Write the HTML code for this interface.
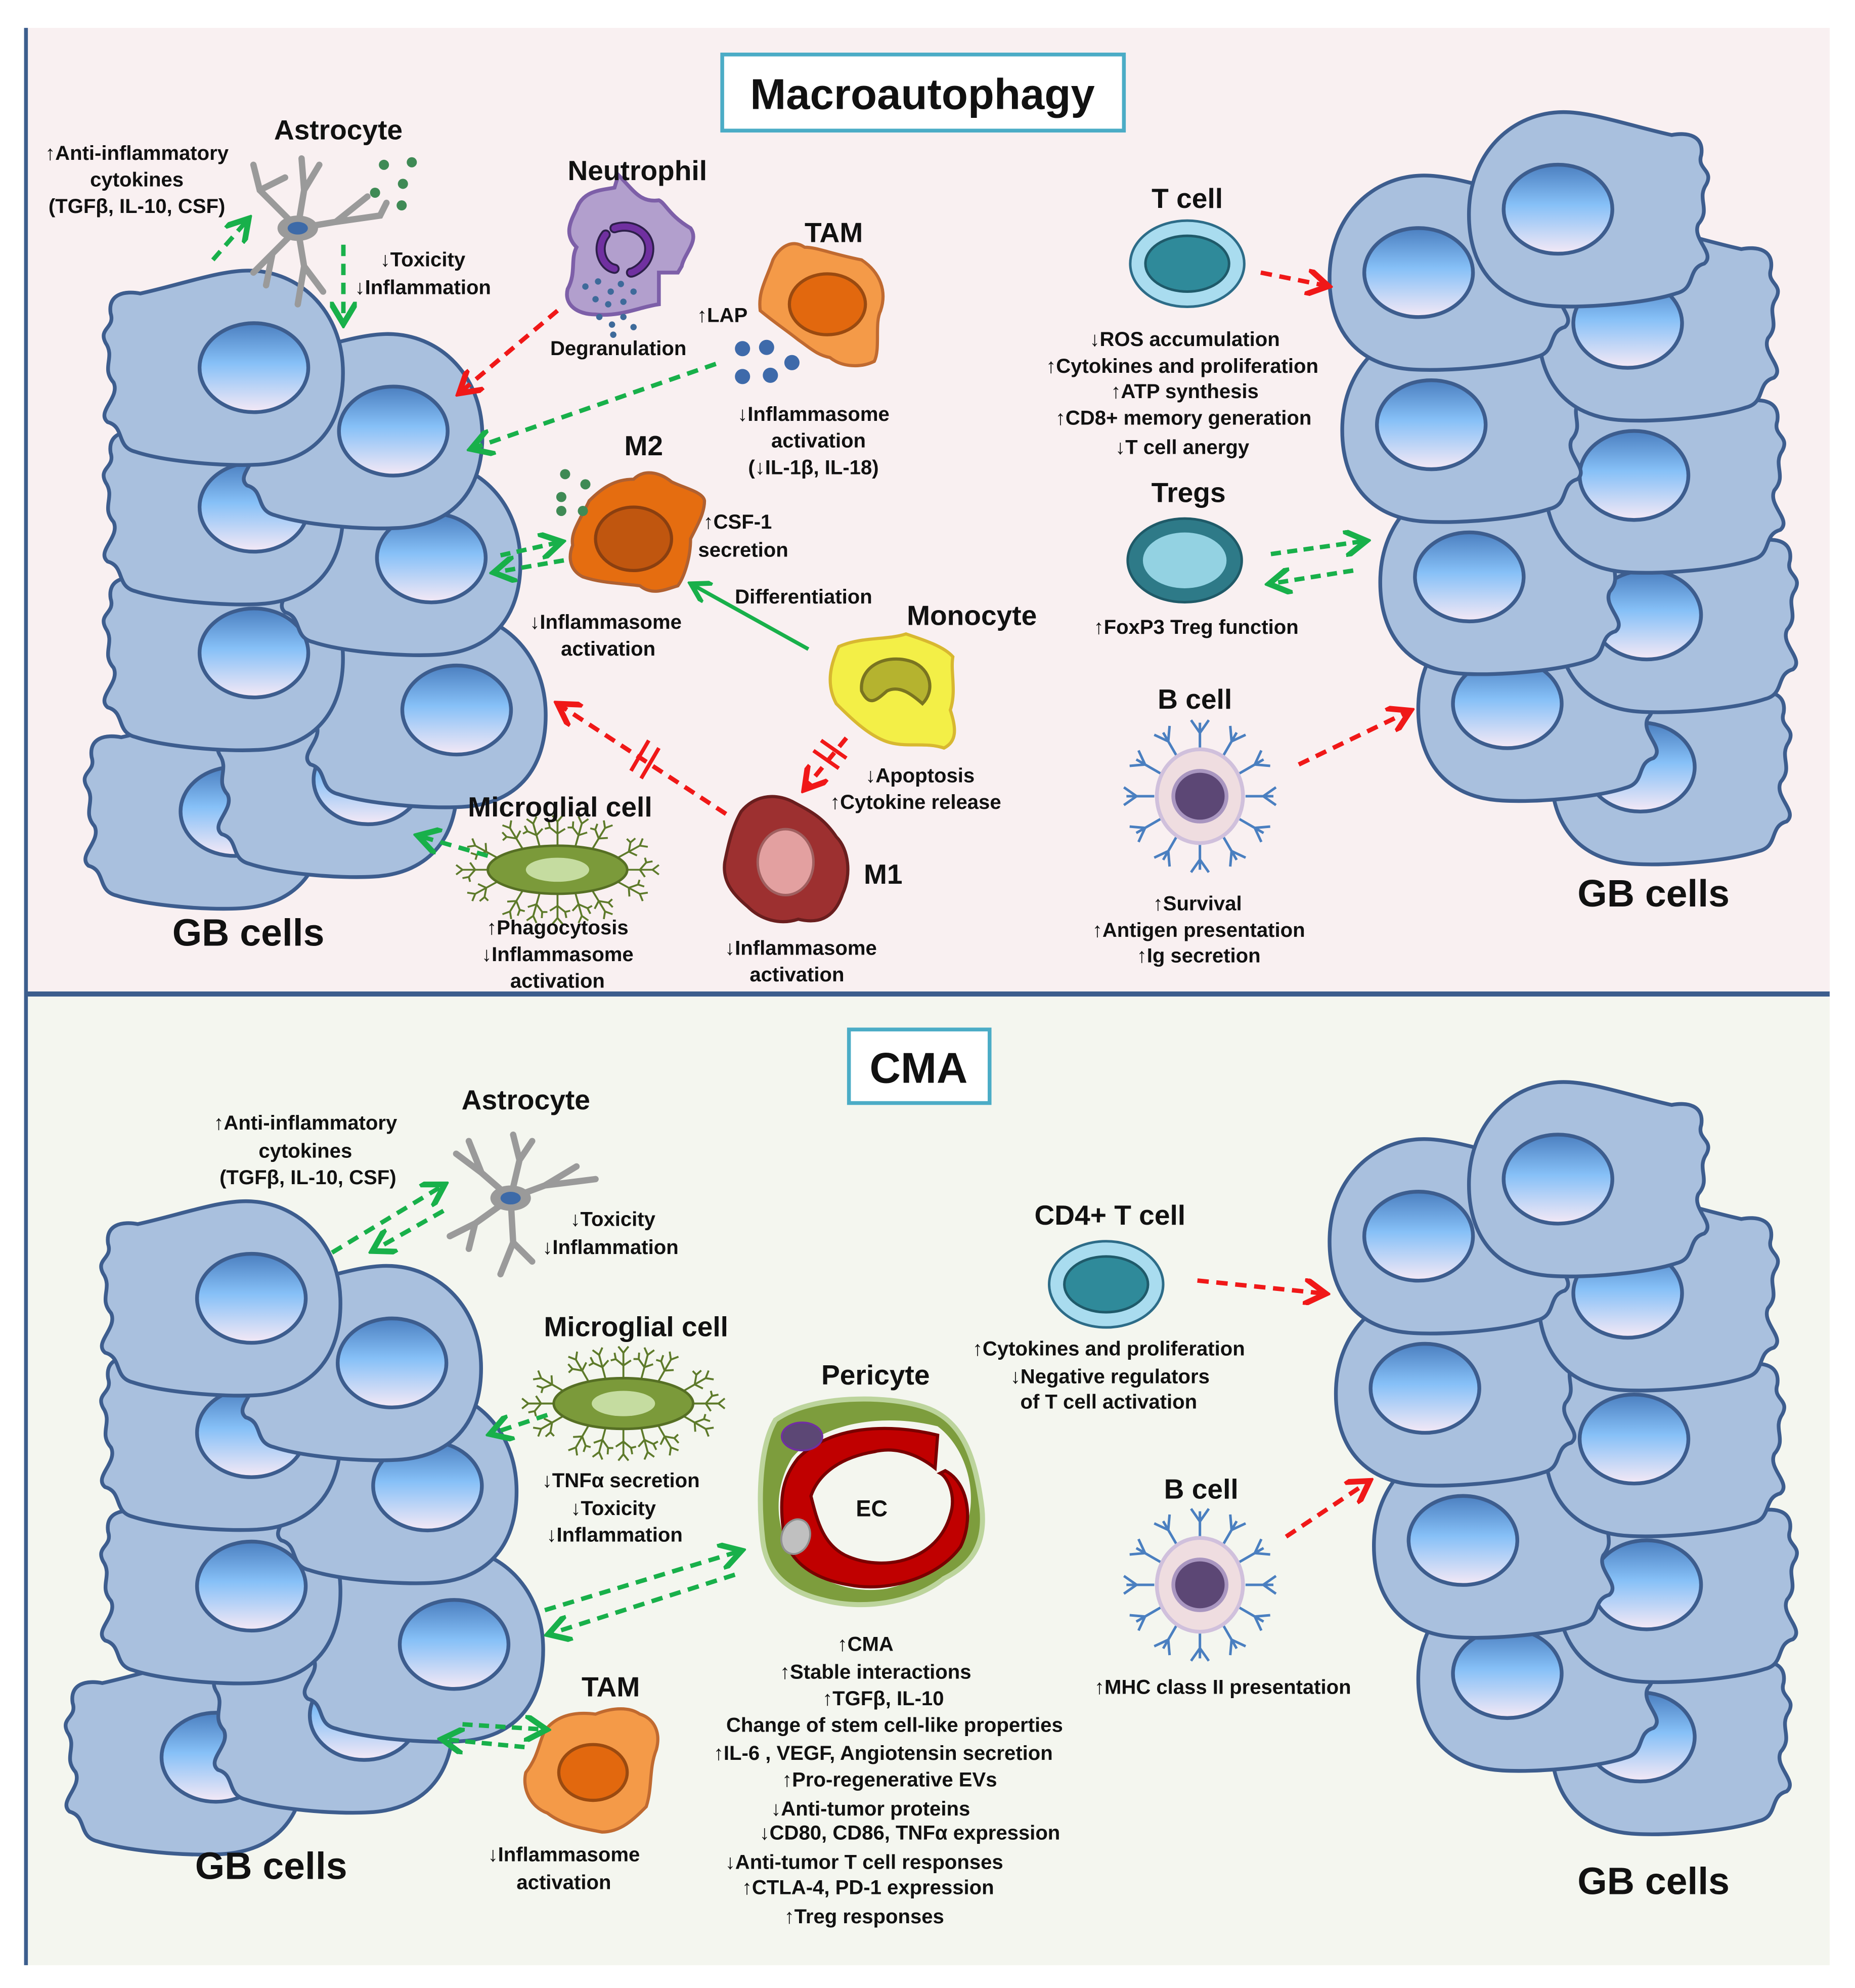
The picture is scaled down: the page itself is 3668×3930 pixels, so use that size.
<!DOCTYPE html>
<html><head><meta charset="utf-8"><style>
html,body{margin:0;padding:0;background:#fff;}
svg{display:block;}
text{font-family:"Liberation Sans",sans-serif;font-weight:bold;fill:#111;}
</style></head><body>
<svg width="3668" height="3930" viewBox="0 0 1464 1568" preserveAspectRatio="none" xmlns="http://www.w3.org/2000/svg">
<defs>
<linearGradient id="nuc" x1="0" y1="0" x2="0" y2="1">
<stop offset="0" stop-color="#4b7fc0"/><stop offset="0.45" stop-color="#86c0f7"/><stop offset="1" stop-color="#f5e9f6"/>
</linearGradient>
<g id="gb0">
<path d="M-115,-55 C-118,-75 -100,-78 -85,-75 C-40,-85 0,-100 30,-98 C80,-95 118,-55 120,0 C122,55 95,95 35,98 C0,100 -60,95 -90,85 C-110,80 -100,60 -118,55 C-130,45 -105,30 -112,15 C-125,0 -110,-10 -120,-25 C-128,-40 -110,-40 -115,-55Z" fill="#a9c0de" stroke="#3d5d8e" stroke-width="3.8"/>
<ellipse cx="30" cy="0" rx="55" ry="45" fill="url(#nuc)" stroke="#3d5d8e" stroke-width="3.8"/>
</g>
<g id="gb"><use href="#gb0" transform="scale(0.78)"/></g>
<marker id="ag" markerWidth="6" markerHeight="6" refX="4" refY="3" orient="auto" markerUnits="strokeWidth"><path d="M0,0 L5,3 L0,6" fill="none" stroke="#18b04a" stroke-width="1.3"/></marker>
<marker id="ar" markerWidth="6" markerHeight="6" refX="4" refY="3" orient="auto" markerUnits="strokeWidth"><path d="M0,0 L5,3 L0,6" fill="none" stroke="#f01818" stroke-width="1.3"/></marker>
<g id="bspk" stroke="#4a7fc0" stroke-width="2" fill="none">
<path d="M0,-36 V-58 M0,-50 l-7,-10 M0,-50 l7,-10"/>
</g>
<g id="sp" stroke="#5d7a2a" stroke-width="1.5" fill="none"><path d="M0,0 L0,-20 M0,-10 l-6,-5 l-1,-5 M0,-10 l6,-4 M0,-20 l-4,-5 M0,-20 l4,-5 M-6,-15 l-4,1"/></g>
<g id="mg">
<use href="#sp" transform="translate(55,0) rotate(90)"/>
<use href="#sp" transform="translate(47.6,10) rotate(120)"/>
<use href="#sp" transform="translate(27.5,17.3) rotate(150)"/>
<use href="#sp" transform="translate(0,20) rotate(180)"/>
<use href="#sp" transform="translate(-27.5,17.3) rotate(210)"/>
<use href="#sp" transform="translate(-47.6,10) rotate(240)"/>
<use href="#sp" transform="translate(-55,0) rotate(270)"/>
<use href="#sp" transform="translate(-47.6,-10) rotate(300)"/>
<use href="#sp" transform="translate(-27.5,-17.3) rotate(330)"/>
<use href="#sp" transform="translate(0,-20) rotate(0)"/>
<use href="#sp" transform="translate(27.5,-17.3) rotate(30)"/>
<use href="#sp" transform="translate(47.6,-10) rotate(60)"/>
<use href="#sp" transform="translate(14,-19) rotate(15)"/>
<use href="#sp" transform="translate(-14,-19) rotate(-15)"/>
<use href="#sp" transform="translate(14,19) rotate(165)"/>
<use href="#sp" transform="translate(-14,19) rotate(195)"/>
<ellipse rx="55" ry="20" fill="#7b9a3a" stroke="#566f24" stroke-width="2"/>
<ellipse rx="25" ry="10" fill="#c5dca0"/>
</g>
</defs>

<!-- panels -->
<rect x="20" y="22" width="1424" height="762" fill="#f9f0f1"/>
<rect x="20" y="786" width="1424" height="764" fill="#f4f6ef"/>
<rect x="19" y="22" width="3" height="1528" fill="#3c5e8d"/>
<rect x="20" y="782" width="1424" height="4" fill="#3c5e8d"/>

<!-- Title boxes -->
<rect x="570" y="43" width="317" height="60" fill="#fff" stroke="#4bacc6" stroke-width="3"/>
<text x="728" y="86" font-size="34" text-anchor="middle">Macroautophagy</text>
<rect x="670" y="812" width="111" height="58" fill="#fff" stroke="#4bacc6" stroke-width="3"/>
<text x="725" y="854" font-size="34" text-anchor="middle">CMA</text>

<!-- TOP LEFT GB cluster -->
<use href="#gb" transform="translate(162,640)"/>
<use href="#gb" transform="translate(267,615)"/>
<use href="#gb" transform="translate(337,560)"/>
<use href="#gb" transform="translate(177,515)"/>
<use href="#gb" transform="translate(317,440)"/>
<use href="#gb" transform="translate(177,400)"/>
<use href="#gb" transform="translate(287,340)"/>
<use href="#gb" transform="translate(177,290)"/>
<text x="196" y="746" font-size="30" text-anchor="middle">GB cells</text>

<!-- TOP RIGHT GB cluster -->
<g transform="translate(20,15)">
<use href="#gb" transform="translate(1298,590) scale(-1,1)"/>
<use href="#gb" transform="translate(1193,540) scale(-1,1)"/>
<use href="#gb" transform="translate(1303,470) scale(-1,1)"/>
<use href="#gb" transform="translate(1163,440) scale(-1,1)"/>
<use href="#gb" transform="translate(1293,360) scale(-1,1)"/>
<use href="#gb" transform="translate(1133,320) scale(-1,1)"/>
<use href="#gb" transform="translate(1288,240) scale(-1,1)"/>
<use href="#gb" transform="translate(1123,200) scale(-1,1)"/>
<use href="#gb" transform="translate(1233,150) scale(-1,1)"/>
</g>
<text x="1305" y="715" font-size="30" text-anchor="middle">GB cells</text>

<!-- BOTTOM LEFT GB cluster -->
<use href="#gb" transform="translate(147,1386)"/>
<use href="#gb" transform="translate(264,1353)"/>
<use href="#gb" transform="translate(335,1297)"/>
<use href="#gb" transform="translate(175,1251)"/>
<use href="#gb" transform="translate(314,1172)"/>
<use href="#gb" transform="translate(175,1130)"/>
<use href="#gb" transform="translate(286,1075)"/>
<use href="#gb" transform="translate(175,1024)"/>
<text x="214" y="1482" font-size="30" text-anchor="middle">GB cells</text>

<!-- BOTTOM RIGHT GB cluster -->
<g transform="translate(20,10)">
<use href="#gb" transform="translate(1298,1360) scale(-1,1)"/>
<use href="#gb" transform="translate(1193,1310) scale(-1,1)"/>
<use href="#gb" transform="translate(1303,1240) scale(-1,1)"/>
<use href="#gb" transform="translate(1158,1205) scale(-1,1)"/>
<use href="#gb" transform="translate(1293,1125) scale(-1,1)"/>
<use href="#gb" transform="translate(1128,1085) scale(-1,1)"/>
<use href="#gb" transform="translate(1288,1010) scale(-1,1)"/>
<use href="#gb" transform="translate(1123,965) scale(-1,1)"/>
<use href="#gb" transform="translate(1233,920) scale(-1,1)"/>
</g>
<text x="1305" y="1494" font-size="30" text-anchor="middle">GB cells</text>

<!-- ===== TOP: Astrocyte ===== -->
<g stroke="#9a9a9a" stroke-width="5" fill="none" stroke-linecap="round">
<path d="M235,180 L205,150 L200,130 M205,150 L225,140 M235,180 L240,150 L238,125 M240,150 L252,130 M235,180 L265,175 L290,155 M265,175 L300,170 L305,160 M235,180 L215,200 L200,215 M215,200 L210,225 M235,180 L240,210 L235,240 M240,210 L255,230"/>
</g>
<ellipse cx="235" cy="180" rx="16" ry="10" fill="#9a9a9a"/>
<ellipse cx="235" cy="180" rx="8" ry="5" fill="#3d6aa8"/>
<g fill="#3f8a55"><circle cx="303" cy="130" r="4"/><circle cx="325" cy="128" r="4"/><circle cx="318" cy="145" r="4"/><circle cx="296" cy="152" r="4"/><circle cx="317" cy="162" r="4"/></g>
<text x="267" y="110" font-size="22" text-anchor="middle">Astrocyte</text>
<text x="108" y="126" font-size="16" text-anchor="middle">↑Anti-inflammatory</text>
<text x="108" y="147" font-size="16" text-anchor="middle">cytokines</text>
<text x="108" y="168" font-size="16" text-anchor="middle">(TGFβ, IL-10, CSF)</text>
<text x="300" y="210" font-size="16">↓Toxicity</text>
<text x="280" y="232" font-size="16">↓Inflammation</text>
<path d="M168,205 L194,175" stroke="#18b04a" stroke-width="3.5" stroke-dasharray="9,6" marker-end="url(#ag)"/>
<path d="M271,193 L271,252" stroke="#18b04a" stroke-width="3.5" stroke-dasharray="9,6" marker-end="url(#ag)"/>

<!-- Neutrophil -->
<path d="M455,165 C460,150 475,150 485,148 L488,138 C500,150 505,160 520,158 C525,160 528,170 545,180 C552,190 540,200 538,210 L535,215 L520,215 L520,240 C505,242 490,250 470,248 C455,248 445,240 448,228 C455,215 450,205 455,195 C445,185 450,175 455,165Z" fill="#b29fcd" stroke="#7d5fa8" stroke-width="3"/>
<path d="M478,185 C470,195 475,210 485,212 M485,180 C500,175 515,185 512,200 C510,210 500,215 498,215" fill="none" stroke="#2d1f4a" stroke-width="8" stroke-linecap="round"/>
<path d="M478,185 C470,195 475,210 485,212 M485,180 C500,175 515,185 512,200 C510,210 500,215 498,215" fill="none" stroke="#7030a0" stroke-width="5" stroke-linecap="round"/>
<g fill="#3e6a9a"><circle cx="462" cy="226" r="2.5"/><circle cx="472" cy="222" r="2.5"/><circle cx="482" cy="230" r="2.5"/><circle cx="490" cy="224" r="2.5"/><circle cx="500" cy="230" r="2.5"/><circle cx="470" cy="236" r="2.5"/><circle cx="480" cy="240" r="2.5"/><circle cx="492" cy="238" r="2.5"/><circle cx="473" cy="250" r="2.5"/><circle cx="483" cy="256" r="2.5"/><circle cx="492" cy="250" r="2.5"/><circle cx="500" cy="258" r="2.5"/><circle cx="484" cy="264" r="2.5"/></g>
<text x="503" y="142" font-size="22" text-anchor="middle">Neutrophil</text>
<text x="488" y="280" font-size="16" text-anchor="middle">Degranulation</text>
<path d="M440,245 L365,308" stroke="#f01818" stroke-width="3.5" stroke-dasharray="9,6" marker-end="url(#ar)"/>

<!-- TAM top -->
<path d="M610,205 C615,195 625,188 635,195 C645,195 655,200 680,205 C695,215 700,230 695,245 C690,255 695,275 690,285 C680,290 665,290 655,282 C645,280 640,275 630,268 C620,260 612,255 600,245 C598,230 605,220 610,205Z" fill="#f49a48" stroke="#c06a30" stroke-width="2.5"/>
<ellipse cx="653" cy="240" rx="30" ry="24" fill="#e2680e" stroke="#9a4a10" stroke-width="2.5"/>
<g fill="#3e6aaa"><circle cx="586" cy="275" r="6"/><circle cx="605" cy="274" r="6"/><circle cx="625" cy="286" r="6"/><circle cx="586" cy="297" r="6"/><circle cx="608" cy="296" r="6"/></g>
<text x="658" y="191" font-size="22" text-anchor="middle">TAM</text>
<text x="550" y="254" font-size="16">↑LAP</text>
<text x="642" y="332" font-size="16" text-anchor="middle">↓Inflammasome</text>
<text x="646" y="353" font-size="16" text-anchor="middle">activation</text>
<text x="642" y="374" font-size="16" text-anchor="middle">(↓IL-1β, IL-18)</text>
<path d="M565,287 L375,353" stroke="#18b04a" stroke-width="3.5" stroke-dasharray="9,6" marker-end="url(#ag)"/>

<!-- M2 -->
<path d="M465,395 C475,385 485,378 500,378 C508,370 520,372 530,380 C540,385 555,388 556,395 C556,405 550,415 545,425 C545,440 540,455 535,462 C525,465 515,470 505,462 C490,460 475,460 460,455 C450,450 448,440 452,430 C450,420 458,410 465,395Z" fill="#e56d10" stroke="#b06030" stroke-width="2.5"/>
<ellipse cx="500" cy="425" rx="30" ry="25" fill="#c0560f" stroke="#8a3f10" stroke-width="2.5"/>
<g fill="#3f8a55"><circle cx="446" cy="374" r="4"/><circle cx="462" cy="382" r="4"/><circle cx="443" cy="392" r="4"/><circle cx="443" cy="403" r="4"/><circle cx="460" cy="403" r="4"/></g>
<text x="508" y="359" font-size="22" text-anchor="middle">M2</text>
<text x="555" y="417" font-size="16">↑CSF-1</text>
<text x="551" y="439" font-size="16">secretion</text>
<text x="478" y="496" font-size="16" text-anchor="middle">↓Inflammasome</text>
<text x="480" y="517" font-size="16" text-anchor="middle">activation</text>
<path d="M395,438 L440,428" stroke="#18b04a" stroke-width="3.5" stroke-dasharray="8,5" marker-end="url(#ag)"/>
<path d="M445,442 L393,451" stroke="#18b04a" stroke-width="3.5" stroke-dasharray="8,5" marker-end="url(#ag)"/>

<!-- Monocyte -->
<path d="M662,510 C680,502 700,505 715,500 C730,505 745,510 752,518 C750,530 755,545 750,560 C755,575 755,585 745,590 C730,585 715,590 700,585 C685,580 670,565 660,555 C652,540 655,525 662,510Z" fill="#f3ef47" stroke="#d8b830" stroke-width="2.5"/>
<path d="M680,545 C678,525 700,515 720,522 C735,528 738,545 728,555 C720,548 710,540 700,545 C692,552 686,558 680,545Z" fill="#b5b32f" stroke="#7a7420" stroke-width="2.5"/>
<text x="767" y="493" font-size="22" text-anchor="middle">Monocyte</text>
<text x="580" y="476" font-size="16">Differentiation</text>
<path d="M638,512 L548,462" stroke="#18b04a" stroke-width="3" marker-end="url(#ag)"/>
<text x="683" y="617" font-size="16">↓Apoptosis</text>
<text x="655" y="638" font-size="16">↑Cytokine release</text>
<path d="M668,582 L637,620" stroke="#f01818" stroke-width="3.5" stroke-dasharray="9,6" marker-end="url(#ar)"/>
<path d="M642,592 L662,606 M648,584 L668,598" stroke="#f01818" stroke-width="3"/>

<!-- M1 -->
<path d="M585,640 C595,628 610,625 625,632 C640,640 650,645 660,660 C670,670 672,690 665,705 C660,720 650,730 630,725 C615,730 600,725 590,715 C578,705 570,695 572,680 C575,665 578,652 585,640Z" fill="#9d3030" stroke="#6a1e1e" stroke-width="2.5"/>
<ellipse cx="620" cy="680" rx="22" ry="26" fill="#e3a0a0" stroke="#a06060" stroke-width="2"/>
<text x="697" y="697" font-size="22" text-anchor="middle">M1</text>
<text x="632" y="753" font-size="16" text-anchor="middle">↓Inflammasome</text>
<text x="629" y="774" font-size="16" text-anchor="middle">activation</text>
<path d="M573,642 L443,557" stroke="#f01818" stroke-width="3.5" stroke-dasharray="9,6" marker-end="url(#ar)"/>
<path d="M498,608 L512,584 M506,614 L520,590" stroke="#f01818" stroke-width="3"/>

<!-- Microglia top -->
<use href="#mg" transform="translate(440,686) scale(1,0.95)"/>
<text x="442" y="644" font-size="22" text-anchor="middle">Microglial cell</text>
<text x="440" y="737" font-size="16" text-anchor="middle">↑Phagocytosis</text>
<text x="440" y="758" font-size="16" text-anchor="middle">↓Inflammasome</text>
<text x="440" y="779" font-size="16" text-anchor="middle">activation</text>
<path d="M385,675 L333,660" stroke="#18b04a" stroke-width="3.5" stroke-dasharray="9,6" marker-end="url(#ag)"/>

<!-- T cell -->
<ellipse cx="937" cy="208" rx="45" ry="34" fill="#a9dcef" stroke="#2d6c88" stroke-width="2"/>
<ellipse cx="937" cy="208" rx="33" ry="22" fill="#2f8a9a" stroke="#1f5a6a" stroke-width="2"/>
<text x="937" y="164" font-size="22" text-anchor="middle">T cell</text>
<path d="M995,215 L1045,225" stroke="#f01818" stroke-width="3.5" stroke-dasharray="9,6" marker-end="url(#ar)"/>
<g font-size="16" text-anchor="middle">
<text x="935" y="273">↓ROS accumulation</text>
<text x="933" y="294">↑Cytokines and proliferation</text>
<text x="935" y="314">↑ATP synthesis</text>
<text x="934" y="335">↑CD8+ memory generation</text>
<text x="933" y="358">↓T cell anergy</text>
</g>
<!-- Tregs -->
<ellipse cx="935" cy="442" rx="45" ry="33" fill="#2e7a88" stroke="#1f5a68" stroke-width="2"/>
<ellipse cx="935" cy="442" rx="33" ry="22" fill="#93d2e2"/>
<text x="938" y="396" font-size="22" text-anchor="middle">Tregs</text>
<text x="944" y="500" font-size="16" text-anchor="middle">↑FoxP3 Treg function</text>
<path d="M1003,437 L1075,427" stroke="#18b04a" stroke-width="3.5" stroke-dasharray="8,5" marker-end="url(#ag)"/>
<path d="M1068,450 L1005,460" stroke="#18b04a" stroke-width="3.5" stroke-dasharray="8,5" marker-end="url(#ag)"/>
<!-- B cell top -->
<g transform="translate(947,628)">
<use href="#bspk"/><use href="#bspk" transform="rotate(30)"/><use href="#bspk" transform="rotate(60)"/><use href="#bspk" transform="rotate(90)"/><use href="#bspk" transform="rotate(120)"/><use href="#bspk" transform="rotate(150)"/><use href="#bspk" transform="rotate(180)"/><use href="#bspk" transform="rotate(210)"/><use href="#bspk" transform="rotate(240)"/><use href="#bspk" transform="rotate(270)"/><use href="#bspk" transform="rotate(300)"/><use href="#bspk" transform="rotate(330)"/>
<ellipse rx="34" ry="37" fill="#efdde0" stroke="#d0c0dc" stroke-width="3"/>
<ellipse rx="21" ry="20" fill="#5c4775" stroke="#a996c0" stroke-width="3"/>
</g>
<text x="943" y="559" font-size="22" text-anchor="middle">B cell</text>
<text x="945" y="718" font-size="16" text-anchor="middle">↑Survival</text>
<text x="946" y="739" font-size="16" text-anchor="middle">↑Antigen presentation</text>
<text x="946" y="759" font-size="16" text-anchor="middle">↑Ig secretion</text>
<path d="M1025,603 L1110,562" stroke="#f01818" stroke-width="3.5" stroke-dasharray="9,6" marker-end="url(#ar)"/>

<!-- ===== BOTTOM ===== -->
<!-- Astrocyte -->
<g stroke="#9a9a9a" stroke-width="5" fill="none" stroke-linecap="round">
<path d="M403,945 L380,925 L360,910 M380,925 L370,900 M403,945 L410,915 L405,895 M410,915 L420,900 M403,945 L430,935 L455,920 M430,935 L470,930 M403,945 L375,965 L355,975 M375,965 L370,985 M403,945 L405,980 L395,1005 M405,980 L420,995"/>
</g>
<ellipse cx="403" cy="945" rx="16" ry="10" fill="#9a9a9a"/>
<ellipse cx="403" cy="945" rx="8" ry="5" fill="#3d6aa8"/>
<text x="415" y="875" font-size="22" text-anchor="middle">Astrocyte</text>
<text x="241" y="891" font-size="16" text-anchor="middle">↑Anti-inflammatory</text>
<text x="241" y="913" font-size="16" text-anchor="middle">cytokines</text>
<text x="243" y="934" font-size="16" text-anchor="middle">(TGFβ, IL-10, CSF)</text>
<text x="450" y="967" font-size="16">↓Toxicity</text>
<text x="428" y="989" font-size="16">↓Inflammation</text>
<path d="M262,988 L348,936" stroke="#18b04a" stroke-width="3.5" stroke-dasharray="9,6" marker-end="url(#ag)"/>
<path d="M350,955 L297,985" stroke="#18b04a" stroke-width="3.5" stroke-dasharray="9,6" marker-end="url(#ag)"/>

<!-- Microglia bottom -->
<use href="#mg" transform="translate(492,1107)"/>
<text x="502" y="1054" font-size="22" text-anchor="middle">Microglial cell</text>
<text x="490" y="1173" font-size="16" text-anchor="middle">↓TNFα secretion</text>
<text x="484" y="1195" font-size="16" text-anchor="middle">↓Toxicity</text>
<text x="485" y="1216" font-size="16" text-anchor="middle">↓Inflammation</text>
<path d="M432,1116 L390,1130" stroke="#18b04a" stroke-width="3.5" stroke-dasharray="9,6" marker-end="url(#ag)"/>
<path d="M430,1270 L582,1224" stroke="#18b04a" stroke-width="3.5" stroke-dasharray="9,6" marker-end="url(#ag)"/>
<path d="M580,1242 L436,1288" stroke="#18b04a" stroke-width="3.5" stroke-dasharray="9,6" marker-end="url(#ag)"/>

<!-- Pericyte -->
<path d="M612,1120 C640,1100 700,1100 730,1110 C760,1120 770,1150 775,1190 C778,1220 765,1235 745,1245 C720,1265 680,1270 650,1262 C620,1255 605,1240 602,1215 C598,1180 600,1140 612,1120Z" fill="#7d9d3d" stroke="#bcd49c" stroke-width="4"/>
<path d="M625,1150 C650,1120 700,1115 740,1125 C760,1140 770,1170 765,1195 C760,1225 735,1245 700,1253 C670,1258 640,1245 625,1225 C612,1205 610,1175 625,1150Z" fill="#f4f6ef"/>
<path d="M630,1150 C655,1125 700,1122 740,1132 L738,1158 C728,1150 710,1140 690,1145 C660,1150 645,1165 640,1180 C645,1200 650,1220 670,1228 C700,1240 740,1230 750,1195 C755,1180 748,1165 742,1162 L746,1160 C765,1170 768,1200 758,1220 C740,1245 700,1256 670,1250 C640,1245 620,1230 618,1205 C615,1180 618,1165 630,1150Z" fill="#c00000" stroke="#7a0000" stroke-width="2.5"/>
<ellipse cx="633" cy="1133" rx="16" ry="11" fill="#5c4775" stroke="#7030a0" stroke-width="1.5"/>
<ellipse cx="628" cy="1212" rx="11" ry="14" fill="#c0c0c0" stroke="#909090" stroke-width="1.5" transform="rotate(20,628,1212)"/>
<text x="688" y="1196" font-size="18" text-anchor="middle">EC</text>
<text x="691" y="1092" font-size="22" text-anchor="middle">Pericyte</text>
<g font-size="16" text-anchor="middle">
<text x="683" y="1302">↑CMA</text>
<text x="691" y="1324">↑Stable interactions</text>
<text x="697" y="1345">↑TGFβ, IL-10</text>
<text x="706" y="1366">Change of stem cell-like properties</text>
<text x="697" y="1388">↑IL-6 , VEGF, Angiotensin secretion</text>
<text x="702" y="1409">↑Pro-regenerative EVs</text>
<text x="687" y="1432">↓Anti-tumor proteins</text>
<text x="718" y="1451">↓CD80, CD86, TNFα expression</text>
<text x="682" y="1474">↓Anti-tumor T cell responses</text>
<text x="685" y="1494">↑CTLA-4, PD-1 expression</text>
<text x="682" y="1517">↑Treg responses</text>
</g>

<!-- TAM bottom -->
<path d="M430,1365 C440,1352 455,1350 470,1352 C480,1348 495,1345 505,1352 C515,1355 522,1365 518,1380 C512,1395 515,1410 510,1425 C500,1435 490,1445 475,1445 C460,1442 445,1440 432,1430 C418,1425 412,1410 415,1398 C425,1385 425,1375 430,1365Z" fill="#f49a48" stroke="#c06a30" stroke-width="2.5"/>
<ellipse cx="468" cy="1398" rx="27" ry="22" fill="#e2680e" stroke="#9a4a10" stroke-width="2.5"/>
<text x="482" y="1338" font-size="22" text-anchor="middle">TAM</text>
<text x="445" y="1468" font-size="16" text-anchor="middle">↓Inflammasome</text>
<text x="445" y="1490" font-size="16" text-anchor="middle">activation</text>
<path d="M365,1360 L428,1364" stroke="#18b04a" stroke-width="3.5" stroke-dasharray="8,5" marker-end="url(#ag)"/>
<path d="M414,1378 L352,1372" stroke="#18b04a" stroke-width="3.5" stroke-dasharray="8,5" marker-end="url(#ag)"/>

<!-- CD4+ T cell -->
<ellipse cx="873" cy="1013" rx="45" ry="34" fill="#a9dcef" stroke="#2d6c88" stroke-width="2"/>
<ellipse cx="873" cy="1013" rx="33" ry="22" fill="#2f8a9a" stroke="#1f5a6a" stroke-width="2"/>
<text x="876" y="966" font-size="22" text-anchor="middle">CD4+ T cell</text>
<path d="M945,1010 L1043,1020" stroke="#f01818" stroke-width="3.5" stroke-dasharray="9,6" marker-end="url(#ar)"/>
<text x="875" y="1069" font-size="16" text-anchor="middle">↑Cytokines and proliferation</text>
<text x="876" y="1091" font-size="16" text-anchor="middle">↓Negative regulators</text>
<text x="875" y="1111" font-size="16" text-anchor="middle">of T cell activation</text>

<!-- B cell bottom -->
<g transform="translate(947,1250)">
<use href="#bspk"/><use href="#bspk" transform="rotate(30)"/><use href="#bspk" transform="rotate(60)"/><use href="#bspk" transform="rotate(90)"/><use href="#bspk" transform="rotate(120)"/><use href="#bspk" transform="rotate(150)"/><use href="#bspk" transform="rotate(180)"/><use href="#bspk" transform="rotate(210)"/><use href="#bspk" transform="rotate(240)"/><use href="#bspk" transform="rotate(270)"/><use href="#bspk" transform="rotate(300)"/><use href="#bspk" transform="rotate(330)"/>
<ellipse rx="34" ry="37" fill="#efdde0" stroke="#d0c0dc" stroke-width="3"/>
<ellipse rx="21" ry="20" fill="#5c4775" stroke="#a996c0" stroke-width="3"/>
</g>
<text x="948" y="1182" font-size="22" text-anchor="middle">B cell</text>
<text x="965" y="1336" font-size="16" text-anchor="middle">↑MHC class II presentation</text>
<path d="M1015,1212 L1078,1170" stroke="#f01818" stroke-width="3.5" stroke-dasharray="9,6" marker-end="url(#ar)"/>
</svg>
</body></html>
